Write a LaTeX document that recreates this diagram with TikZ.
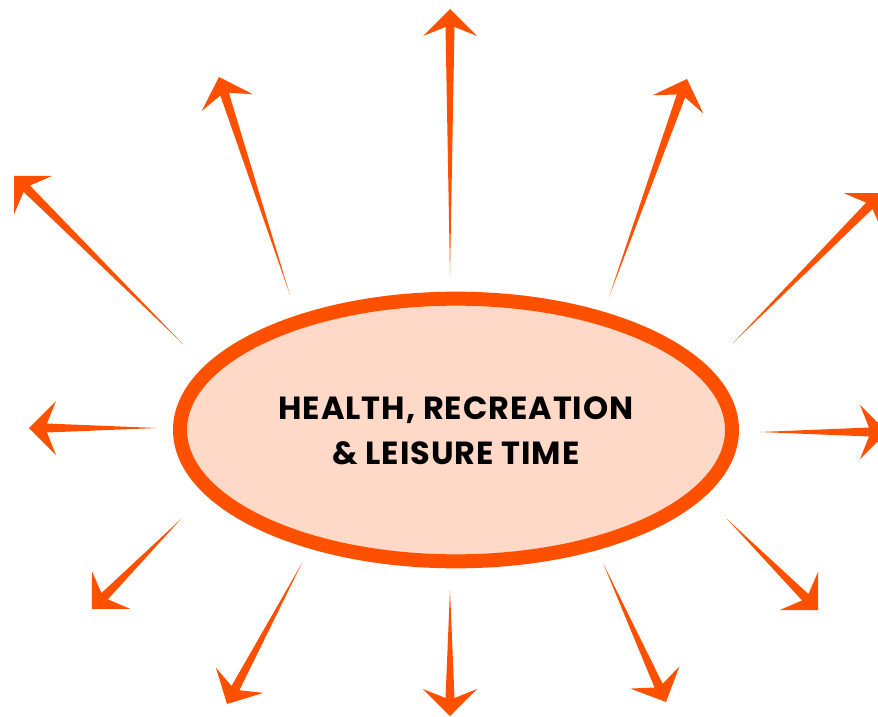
\documentclass[tikz,border=0pt]{standalone}
\usepackage{fontspec}
\setmainfont{Poppins}
\usetikzlibrary{shapes.geometric,calc}
\definecolor{flame}{RGB}{255,80,0}
\definecolor{peach}{RGB}{255,217,200}
% tapered arrow: thin at the tail (#1), barbed head at the tip (#2)
\newcommand\spike[2]{%
  \fill[flame] (#1) -- ($(#2)!13.9pt!14:(#1)$) -- ($(#2)!28.6pt!45:(#1)$)
    -- (#2) -- ($(#2)!28.6pt!-45:(#1)$) -- ($(#2)!13.9pt!-14:(#1)$) -- cycle;}
\begin{document}
\begin{tikzpicture}[x=0.75pt,y=-0.75pt,
  core/.style={ellipse, draw=flame, fill=peach, line width=10.5pt,
    minimum width=414pt, minimum height=197pt, inner sep=0pt},
  title/.style={align=center,
    font=\fontsize{24}{33.75}\selectfont\bfseries\addfontfeature{LetterSpace=3}}]
\useasboundingbox (0,0) rectangle (878,717);
\clip (0,0) rectangle (878,717);

\node[core] (hub) at (456,430) {};
\node[title] (label) at (456,431) {HEALTH, RECREATION\\\& LEISURE TIME};

% tails and tips of the twelve rays
\coordinate (t1) at (450,275);  \coordinate (h1) at (450,9);
\coordinate (t2) at (290,295);  \coordinate (h2) at (219,77);
\coordinate (t3) at (609,297);  \coordinate (h3) at (687,79);
\coordinate (t4) at (183,344);  \coordinate (h4) at (14,176);
\coordinate (t5) at (733,343);  \coordinate (h5) at (882,193);
\coordinate (t6) at (157,428);  \coordinate (h6) at (29,428);
\coordinate (t7) at (760,432);  \coordinate (h7) at (887,432);
\coordinate (t8) at (181,519);  \coordinate (h8) at (92,609);
\coordinate (t9) at (727,519);  \coordinate (h9) at (818,610);
\coordinate (t10) at (302,563); \coordinate (h10) at (227,704);
\coordinate (t11) at (450,590); \coordinate (h11) at (450,716);
\coordinate (t12) at (603,563); \coordinate (h12) at (666,702);

\foreach \i in {1,...,12} {\spike{t\i}{h\i}}
\end{tikzpicture}
\end{document}
